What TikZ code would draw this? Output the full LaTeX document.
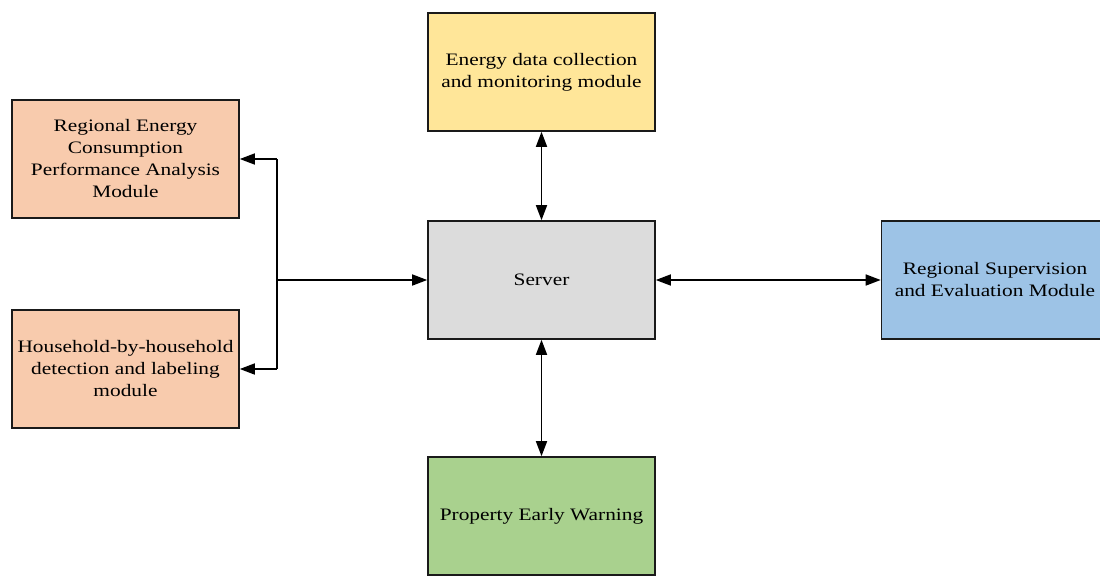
\documentclass[tikz,border=0pt]{standalone}
\usepackage{fontspec}
\setmainfont[FakeStretch=1.22]{Liberation Serif}
\usetikzlibrary{arrows.meta}
\definecolor{cyellow}{HTML}{FFE699}
\definecolor{cpeach}{HTML}{F8CBAD}
\definecolor{cgray}{HTML}{DCDCDC}
\definecolor{cblue}{HTML}{9DC3E6}
\definecolor{cgreen}{HTML}{A9D18E}
\definecolor{cborder}{HTML}{1A1A1A}
\begin{document}
\begin{tikzpicture}[x=1pt,y=-1pt,
  box/.style={draw=cborder,line width=1.6pt,minimum width=227pt,minimum height=118pt,
    inner sep=0pt,align=center,font=\fontsize{17.5}{22}\selectfont},
  conn/.style={line width=1.6pt,draw=black},
  tip/.style={-{Triangle[length=15pt,width=11pt]}},
  tips/.style={{Triangle[length=15pt,width=11pt]}-{Triangle[length=15pt,width=11pt]}}]
\useasboundingbox (0,0) rectangle (1100,576);
\begin{scope}
\clip (0,0) rectangle (1100,576);
\node[box,fill=cyellow] (edc) at (541.5,72) {Energy data collection\\and monitoring module};
\node[box,fill=cpeach] (rec) at (125.5,159) {Regional Energy\\Consumption\\Performance Analysis\\Module};
\node[box,fill=cpeach] (hhd) at (125.5,369) {Household-by-household\\detection and labeling\\module};
\node[box,fill=cgray] (srv) at (541.5,280) {Server};
\node[box,fill=cblue] (rse) at (995,280) {Regional Supervision\\and Evaluation Module};
\node[box,fill=cgreen] (pew) at (541.5,516) {Property Early Warning};
\end{scope}
\coordinate (jt) at (277,159);
\coordinate (jm) at (277,280);
\coordinate (jb) at (277,369);
\draw[conn,tip] (jt) -- (rec.east);
\draw[conn,tip] (jb) -- (hhd.east);
\draw[conn] (jt) -- (jb);
\draw[conn,tip] (jm) -- (srv.west);
\draw[conn,tips] (edc.south) -- (srv.north);
\draw[conn,tips] (srv.south) -- (pew.north);
\draw[conn,tips] (srv.east) -- (rse.west);
\end{tikzpicture}
\end{document}
